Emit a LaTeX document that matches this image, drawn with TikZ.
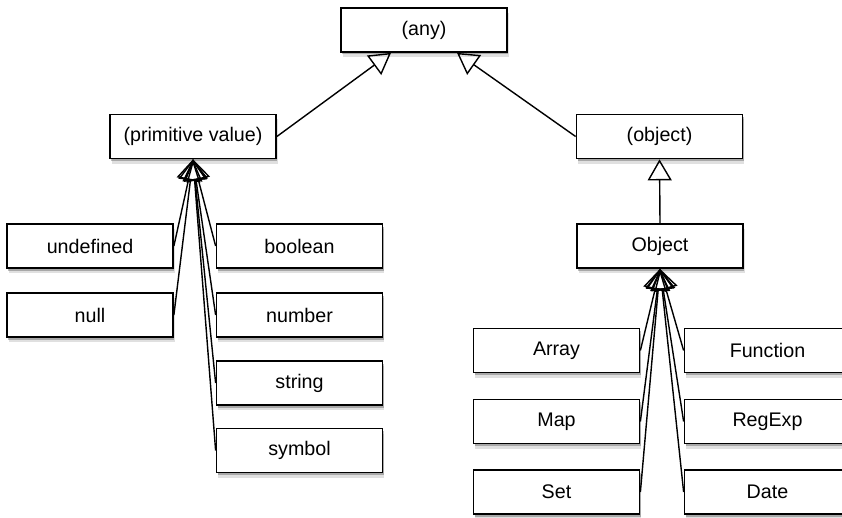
\documentclass[tikz,border=0pt]{standalone}
\usepackage{fontspec}
\setmainfont{Liberation Sans}
\usepackage{tikz}
\usetikzlibrary{arrows.meta, positioning, calc, shadows}
\tikzstyle{typebox} = [rectangle, minimum width=3.32cm, minimum height=0.88cm, text centered, draw=black, line width=1pt, fill=white, font=\fontsize{11.2}{13}\selectfont, drop shadow={shadow xshift=0.03cm, shadow yshift=-0.10cm, fill=black, opacity=0.12}, drop shadow={shadow xshift=0.02cm, shadow yshift=-0.05cm, fill=black, opacity=0.25}]
\tikzstyle{gen} = [line width=0.8pt, -{Triangle[open, length=0.42cm, width=0.48cm]}]

\begin{document}
\begin{tikzpicture}
    \useasboundingbox (0, 0) rectangle (16.84, -10.34);

    % Top of the hierarchy
    \node[typebox] (any) at (8.48, -0.60) {(any)};
    \node[typebox] (prim) at (3.86, -2.73) {(primitive value)};
    \node[typebox] (obj) at (13.19, -2.73) {(object)};

    % Primitive types
    \node[typebox] (undef) at (1.80, -4.92) {undefined};
    \node[typebox] (null) at (1.80, -6.30) {null};
    \node[typebox] (bool) at (5.99, -4.92) {boolean};
    \node[typebox] (num) at (5.99, -6.30) {number};
    \node[typebox] (str) at (5.99, -7.66) {string};
    \node[typebox] (sym) at (5.99, -9.01) {symbol};

    % Objects
    \node[typebox] (objc) at (13.20, -4.92) {Object};
    \node[typebox] (arr) at (11.13, -7.01) {Array};
    \node[typebox] (map) at (11.13, -8.43) {Map};
    \node[typebox] (set) at (11.13, -9.84) {Set};
    \node[typebox] (func) at (15.35, -7.01) {Function};
    \node[typebox] (regexp) at (15.35, -8.43) {RegExp};
    \node[typebox] (date) at (15.35, -9.84) {Date};

    % Generalisations
    \draw[gen] (prim.east) -- ([xshift=-0.66cm]any.south);
    \draw[gen] (obj.west) -- ([xshift=0.66cm]any.south);

    \draw[gen] (undef.east) -- (prim.south);
    \draw[gen] (null.east) -- (prim.south);
    \draw[gen] (bool.west) -- (prim.south);
    \draw[gen] (num.west) -- (prim.south);
    \draw[gen] (str.west) -- (prim.south);
    \draw[gen] (sym.west) -- (prim.south);

    \draw[gen] (objc.north) -- (obj.south);

    \draw[gen] (arr.east) -- (objc.south);
    \draw[gen] (map.east) -- (objc.south);
    \draw[gen] (set.east) -- (objc.south);
    \draw[gen] (func.west) -- (objc.south);
    \draw[gen] (regexp.west) -- (objc.south);
    \draw[gen] (date.west) -- (objc.south);
\end{tikzpicture}
\end{document}
